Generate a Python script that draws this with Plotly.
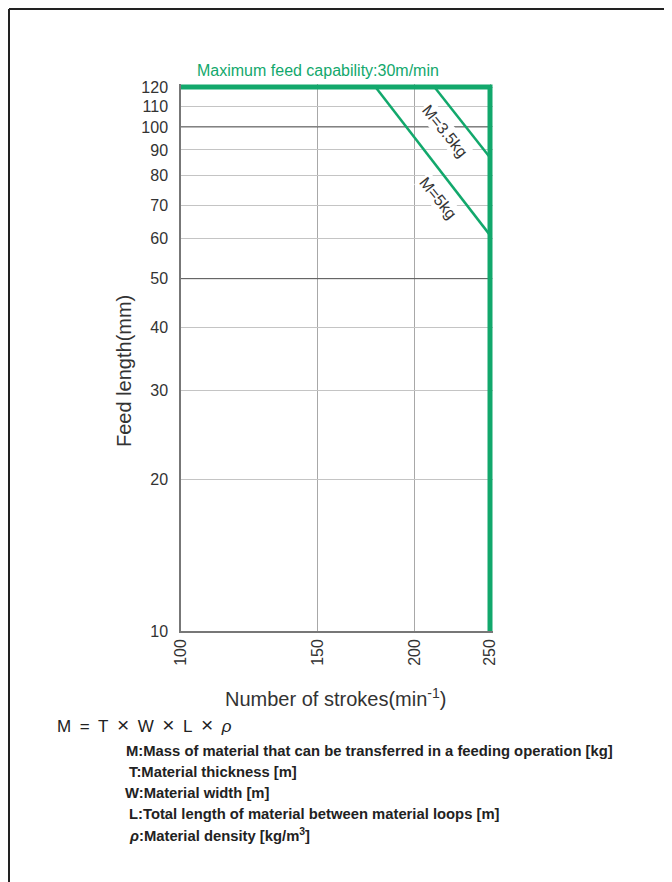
import math
import plotly.graph_objects as go

# --- data ---
x_ticks = [100, 150, 200, 250]
y_ticks = [10, 20, 30, 40, 50, 60, 70, 80, 90, 100, 110, 120]

cap_strokes = [100, 250, 250]      # maximum feed capability boundary
cap_feed = [120, 120, 10]

strokes_5kg = [178, 250]
feed_5kg = [120, 61]
strokes_35kg = [212, 250]
feed_35kg = [120, 87]

dark_grid_feed = [50, 100]

GREEN = "#12A86C"
FONT = "Liberation Sans, Arial, sans-serif"

# the page body has an 8px margin, so the figure starts at (8, 8) in the window
OFF = 8
W, H = 672 - OFF, 882 - OFF
L, T, PW, PH = 181 - OFF, 84 - OFF, 312, 547


def px_x(px):  # window pixel -> paper x
    return (px - OFF - L) / PW


def px_y(py):  # window pixel -> paper y
    return (T + PH - (py - OFF)) / PH


fig = go.Figure()

# darker reference grid lines at 50 and 100
gx, gy = [], []
for v in dark_grid_feed:
    gx += [x_ticks[0], x_ticks[-1], None]
    gy += [v, v, None]
fig.add_trace(go.Scatter(x=gx, y=gy, mode="lines",
                         line=dict(color="#555555", width=1), hoverinfo="skip"))

fig.add_trace(go.Scatter(x=strokes_5kg, y=feed_5kg, mode="lines",
                         line=dict(color=GREEN, width=2.5), hoverinfo="skip"))
fig.add_trace(go.Scatter(x=strokes_35kg, y=feed_35kg, mode="lines",
                         line=dict(color=GREEN, width=2.5), hoverinfo="skip"))
fig.add_trace(go.Scatter(x=cap_strokes, y=cap_feed, mode="lines",
                         line=dict(color=GREEN, width=5), hoverinfo="skip"))

fig.update_xaxes(
    type="log",
    range=[2, math.log10(250) + 3 / 776.5],
    tickvals=x_ticks, ticktext=[str(v) for v in x_ticks],
    tickangle=-90, ticks="", ticklabelstandoff=0,
    tickfont=dict(size=16, color="#333333", family=FONT),
    showgrid=True, gridcolor="#a8a8a8", gridwidth=1,
    showline=True, linecolor="#777777", linewidth=1.5,
    zeroline=False,
)
fig.update_yaxes(
    type="log",
    range=[1, math.log10(120) + 3 / 504.1],
    tickvals=y_ticks, ticktext=[str(v) for v in y_ticks],
    ticks="", ticklabelstandoff=8,
    tickfont=dict(size=16, color="#333333", family=FONT),
    showgrid=True, gridcolor="#c4c4c4", gridwidth=1,
    showline=True, linecolor="#777777", linewidth=1.5,
    zeroline=False,
)

X = '\u2002<span style="font-size:21px">×</span>\u2002'
annotations = [
    dict(text="Maximum feed capability:30m/min", xref="paper", yref="paper",
         x=px_x(195), y=px_y(71), xanchor="left", yanchor="middle",
         showarrow=False, font=dict(size=16, color=GREEN, family=FONT)),
    dict(text="M=3.5kg", xref="x", yref="y",
         x=math.log10(219), y=math.log10(98.0), textangle=51,
         showarrow=False, bgcolor="white",
         font=dict(size=16, color="#333333", family=FONT)),
    dict(text="M=5kg", xref="x", yref="y",
         x=math.log10(214), y=math.log10(72.4), textangle=51,
         showarrow=False, bgcolor="white",
         font=dict(size=16, color="#333333", family=FONT)),
    dict(text="Feed length(mm)", xref="paper", yref="paper",
         x=px_x(124), y=px_y(371), textangle=-90,
         xanchor="center", yanchor="middle",
         showarrow=False, font=dict(size=20, color="#333333", family=FONT)),
    dict(text="Number of strokes(min<sup>-1</sup>)", xref="paper", yref="paper",
         x=px_x(335), y=px_y(697), xanchor="center", yanchor="middle",
         showarrow=False, font=dict(size=20, color="#333333", family=FONT)),
    dict(text=f"M\u2002=\u2002T{X}W{X}L{X}<i>ρ</i>",
         xref="paper", yref="paper",
         x=px_x(55), y=px_y(724), xanchor="left", yanchor="middle",
         showarrow=False, font=dict(size=17, color="#222222", family=FONT)),
]

notes = [
    ("M:Mass of material that can be transferred in a feeding operation [kg]", 124),
    ("T:Material thickness [m]", 127),
    ("W:Material width [m]", 123),
    ("L:Total length of material between material loops [m]", 127),
    ("<i>ρ</i>:Material density [kg/m<sup>3</sup>]", 127),
]
for i, (txt, x0) in enumerate(notes):
    annotations.append(dict(
        text="<b>" + txt + "</b>", xref="paper", yref="paper",
        x=px_x(x0), y=px_y(751 + 21 * i), xanchor="left", yanchor="middle",
        showarrow=False, font=dict(size=14.8, color="#222222", family=FONT)))

shapes = [
    dict(type="line", xref="paper", yref="paper",
         x0=px_x(9), x1=px_x(680), y0=px_y(9), y1=px_y(9),
         line=dict(color="#222222", width=2)),
    dict(type="line", xref="paper", yref="paper",
         x0=px_x(9), x1=px_x(9), y0=px_y(9), y1=px_y(890),
         line=dict(color="#222222", width=2)),
]

fig.update_layout(
    width=W, height=H,
    margin=dict(l=L, r=W - L - PW, t=T, b=H - T - PH, autoexpand=False),
    paper_bgcolor="white", plot_bgcolor="white",
    showlegend=False,
    font=dict(family=FONT),
    annotations=annotations,
    shapes=shapes,
)

fig.write_html("out.html")
